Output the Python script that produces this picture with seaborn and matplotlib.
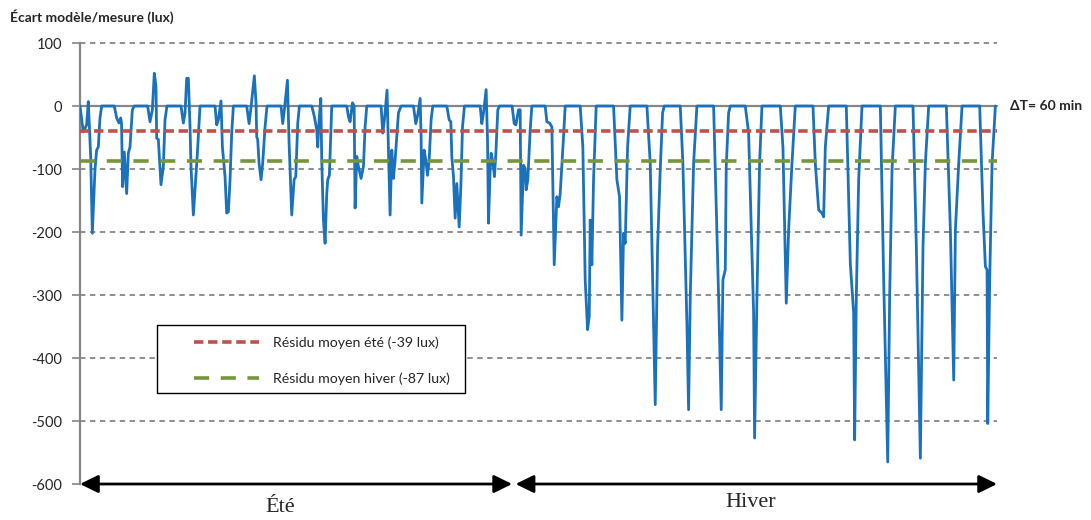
import pandas as pd
import matplotlib.pyplot as plt
import seaborn as sns
from matplotlib.patches import Rectangle

sns.set_style("white")
plt.rcParams["font.family"] = ["Lato", "DejaVu Sans"]
plt.rcParams["axes.unicode_minus"] = False

# pas horaire (dT = 60 min), sommets de la courbe
heures_ete = [0, 2.4, 4.8, 6.0, 7.7, 8.9, 10.8, 12.0, 13.2, 14.4, 15.6,
              24.7, 26.4, 28.1, 29.3, 29.9, 30.7, 31.9, 32.9, 33.6, 34.8, 36.0, 37.7, 39.1,
              48.7, 50.4, 52.1, 53.5, 54.7, 55.2, 56.4, 58.3, 60.0, 61.2, 62.6,
              72.7, 74.4, 75.6, 76.8, 78.0, 79.2, 79.9, 81.6, 83.3, 84.5, 86.4,
              97.2, 98.4, 99.6, 101.5, 102.5, 104.4, 105.6, 106.8, 108.0, 109.2, 110.4,
              120.0, 121.7, 123.1, 125.5, 126.7, 127.2, 127.9, 128.9, 130.3, 131.5, 133.2, 134.6,
              144.7, 145.9, 147.1, 149.3, 150.5, 152.4, 154.1, 155.3, 156.7, 157.9,
              166.8, 168.7, 170.4, 171.1, 172.1, 173.3, 174.0, 175.2, 176.4, 177.6, 178.3, 179.5, 181.2,
              192.0, 193.2, 194.4, 196.1, 197.3, 198.0, 199.2, 200.4, 202.3, 204.0, 205.2, 206.4,
              216.7, 217.9, 219.1, 221.0, 222.0, 223.2, 224.4, 225.6, 226.8, 229.2, 231.1,
              240.0, 241.7, 243.1, 244.8, 245.5, 246.0, 247.7, 248.9, 250.1, 251.3, 252.7, 253.9,
              264.0, 265.7, 266.9, 267.6, 268.8, 270.0, 271.2, 272.9, 274.1, 275.3, 276.7,
              288.0, 289.2, 290.4, 292.3, 293.3, 294.0, 295.2, 295.9, 296.9, 298.3, 299.3, 300.7, 301.9,
              311.0]
ecart_ete = [0, -41, -30, 7, -80, -202, -101, -70, -65, -19, 0,
             0, -19, -27, -19, -27, -128, -73, -112, -139, -75, -65, -6, 0,
             0, -25, -6, 52, 31, -51, -53, -125, -96, -22, 0,
             0, -27, -11, 44, 44, -33, -96, -173, -117, -75, 0,
             0, -30, -22, 8, -65, -112, -170, -168, -117, -43, 0,
             0, -28, -2, 48, 5, -49, -53, -91, -117, -91, -33, 0,
             0, -28, -6, 41, -59, -173, -117, -112, -28, 0,
             0, -17, -38, -65, -22, 12, -86, -181, -218, -139, -117, -110, 0,
             0, -17, -25, 5, 0, -162, -80, -96, -115, -96, -33, 0,
             0, -43, -22, 25, -70, -173, -70, -115, -86, -11, 0,
             0, -28, -14, 12, -49, -154, -70, -86, -110, -86, -22, 0,
             0, -22, -25, -80, -112, -178, -123, -192, -128, -33, 0,
             0, -28, -11, 26, -54, -186, -101, -75, -86, -112, -75, -6, 0,
             0]

heures_hiver = [312.5, 313.7, 315.6, 316.8, 317.5, 319.2, 320.4, 321.1, 322.3, 324.0, 325.2,
                334.8, 336.0, 337.9, 339.6, 341.3, 343.2, 344.4, 345.6, 348.0, 349.2,
                360.0, 361.9, 363.6, 365.3, 366.5, 367.2, 368.4, 369.6, 371.5,
                384.0, 386.4, 388.3, 390.0, 391.2, 392.4, 394.1, 396.0,
                408.0, 410.4, 414.0, 415.7, 417.6, 419.3, 420.5,
                432.0, 433.9, 436.8, 438.0, 439.2, 441.6, 444.0,
                456.0, 459.6, 461.5, 462.7, 464.4, 465.1, 466.8, 468.0,
                478.8, 481.2, 484.8, 485.5, 487.2, 489.1, 490.8,
                504.0, 505.9, 508.3, 510.0, 512.4, 514.8,
                527.5, 529.2, 531.6, 534.0, 535.2, 536.4, 538.8,
                551.5, 554.4, 556.8, 557.5, 558.7, 560.4, 562.8,
                576.0, 578.4, 581.3, 582.7, 584.4, 586.8,
                599.5, 601.9, 604.8, 606.7, 608.4, 610.8,
                623.5, 626.4, 628.8, 630.0, 632.4, 634.8,
                647.5, 649.9, 651.6, 652.8, 653.3, 654.7, 656.4, 658.8]
ecart_hiver = [-28, -30, -6, -6, -205, -94, -99, -133, -117, -38, 0,
               0, -25, -27, -33, -252, -144, -160, -139, -49, 0,
               0, -65, -276, -355, -334, -181, -252, -117, 0,
               0, -117, -144, -340, -202, -218, -65, 0,
               0, -91, -474, -223, -101, -11, 0,
               0, -91, -345, -482, -303, -91, 0,
               0, -303, -482, -276, -260, -96, -11, 0,
               0, -43, -329, -527, -303, -91, 0,
               0, -65, -313, -197, -91, 0,
               0, -91, -165, -170, -176, -65, 0,
               0, -250, -329, -530, -303, -117, 0,
               0, -276, -565, -303, -101, 0,
               0, -223, -559, -223, -91, 0,
               0, -197, -435, -197, -91, 0,
               0, -170, -255, -260, -504, -276, -91, 0]

residu_ete = -39
residu_hiver = -87
yticks = [100, 0, -100, -200, -300, -400, -500, -600]
saisons = ["Été", "Hiver"]
fin_ete = 312
fin_serie = 660

df = pd.DataFrame({"heure": heures_ete + heures_hiver,
                   "ecart": ecart_ete + ecart_hiver})

fig = plt.figure(figsize=(10.91, 5.2), dpi=100)
ax = fig.add_axes([0.0733, 0.0692, 0.8406, 0.8481])

grey = "#868686"
for y in yticks:
    if y == 0:
        ax.axhline(y, color=grey, lw=1.6, zorder=1, clip_on=False)
    elif y != -600:
        ax.axhline(y, color=grey, lw=1.3, ls=(0, (3, 2.5)), zorder=1, clip_on=False)

sns.lineplot(data=df, x="heure", y="ecart", ax=ax, color="#1a72bd", lw=2.0,
             estimator=None, sort=False, zorder=3)

ax.axhline(residu_ete, color="#c0504d", lw=2.6, ls=(0, (2.6, 1.3)), zorder=4,
           label=f"Résidu moyen été ({residu_ete} lux)")
ax.axhline(residu_hiver, color="#77963c", lw=2.6, ls=(0, (4.2, 3.2)), zorder=4,
           label=f"Résidu moyen hiver ({residu_hiver} lux)")

ax.set_xlim(0, fin_serie)
ax.set_ylim(-600, 100)
ax.set_yticks(yticks)
ax.set_xticks([])
ax.set_xlabel("")
ax.set_ylabel("")
ax.tick_params(axis="y", length=6, width=1.2, color=grey, pad=7, labelsize=10.5,
               left=True)
for s in ["top", "right", "bottom"]:
    ax.spines[s].set_visible(False)
ax.spines["left"].set_color(grey)
ax.spines["left"].set_linewidth(1.6)

# cadre de la légende dessiné à part (marge gauche plus large que dans matplotlib)
ax.add_patch(Rectangle((0.084, 0.2063), 0.3358, 0.1542, transform=ax.transAxes,
                       facecolor="white", edgecolor="black", lw=1.0, zorder=5))
leg = ax.legend(loc="upper left", bbox_to_anchor=(0.1245, 0.334), borderaxespad=0,
                frameon=False, handlelength=4.6, handletextpad=1.0, labelspacing=1.65,
                borderpad=0, fontsize=10.2)
leg.set_zorder(6)

# flèches des saisons
arrow = dict(arrowstyle="<|-|>,head_length=0.55,head_width=0.27", color="black",
             lw=2.0, mutation_scale=20, shrinkA=0, shrinkB=0)
ax.annotate("", xy=(0, -600), xytext=(fin_ete - 1, -600), arrowprops=arrow,
            annotation_clip=False)
ax.annotate("", xy=(fin_ete + 1.5, -600), xytext=(fin_serie, -600), arrowprops=arrow,
            annotation_clip=False)
ax.text(fin_ete / 2 - 12, -637, saisons[0], ha="center", va="center",
        fontsize=16, family="Liberation Serif")
ax.text((fin_ete + fin_serie) / 2 - 3, -630, saisons[1], ha="center", va="center",
        fontsize=16, family="Liberation Serif")

fig.text(0.009, 0.968, "Écart modèle/mesure (lux)", fontsize=10, fontweight="bold",
         ha="left", va="center")
ax.text(fin_serie + 9, 0, "ΔT= 60 min", fontsize=10, fontweight="bold",
        ha="left", va="center")

fig.savefig("out.png", dpi=100)
